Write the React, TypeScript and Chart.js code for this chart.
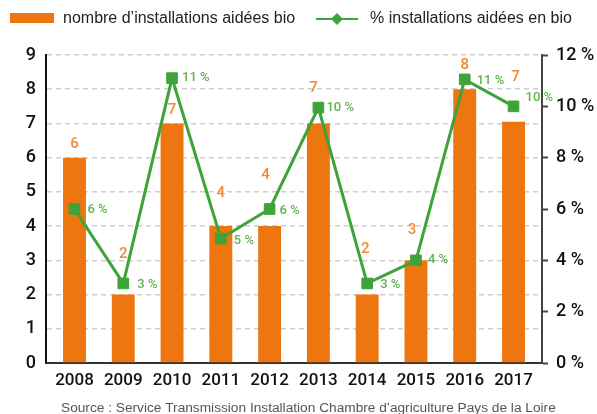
import React, { useEffect, useRef } from 'react';
import { Chart, registerables } from 'chart.js';

Chart.register(...registerables);

// ---- data ----
const years = ['2008', '2009', '2010', '2011', '2012', '2013', '2014', '2015', '2016', '2017'];
const installCounts = [6, 2, 7, 4, 4, 7, 2, 3, 8, 7.05];
const installPercents = [6.0, 3.1, 11.1, 4.85, 6.0, 9.95, 3.1, 4.0, 11.05, 10.0];
const countAxisMax = 9;
const percentAxisMax = 12;
const percentAxisStep = 2;
const legendLabels = ['nombre d’installations aidées bio', '% installations aidées en bio'];
const sourceText = 'Source : Service Transmission Installation Chambre d’agriculture Pays de la Loire';

// ---- styles ----
const ORANGE = '#ee7611';
const ORANGE_LABEL = '#f28a33';
const GREEN = '#3ea338';
const GREEN_LABEL = '#5fb44c';
const SANS = "'Liberation Sans', Arial, sans-serif";
const MED = "Roboto, 'Liberation Sans', sans-serif";

// label nudges (px) to reproduce the hand-placed labels of the original
const barLabelDx = [0, 0, 0, 0, -4, -5, -2, -4, 0, 2];
const barLabelDy = [-13, -40, -13, -33, -51, -35, -45, -30, -24, -44];
const pctLabelDx = [13, 14, 10, 13, 10, 8, 13, 12, 12, 12];
const pctLabelDy = [1, 1, 0, 2, 2, 0, 1, -1, 1, -9];

const decorPlugin = {
  id: 'decor',
  afterDatasetsDraw(chart: any) {
    const ctx = chart.ctx;
    ctx.save();
    const barMeta = chart.getDatasetMeta(0);
    ctx.font = `500 15px ${MED}`;
    ctx.fillStyle = ORANGE_LABEL;
    ctx.textAlign = 'center';
    ctx.textBaseline = 'middle';
    barMeta.data.forEach((el: any, i: number) => {
      ctx.fillText(String(Math.round(installCounts[i])), el.x + barLabelDx[i], el.y + barLabelDy[i]);
    });
    const lineMeta = chart.getDatasetMeta(1);
    ctx.font = `500 13px ${MED}`;
    ctx.fillStyle = GREEN_LABEL;
    ctx.textAlign = 'left';
    lineMeta.data.forEach((el: any, i: number) => {
      ctx.fillText(`${Math.round(installPercents[i])} %`, el.x + pctLabelDx[i], el.y + pctLabelDy[i]);
    });
    ctx.restore();
  },
  afterDraw(chart: any) {
    const ctx = chart.ctx;
    ctx.save();
    ctx.fillStyle = ORANGE;
    ctx.fillRect(10, 13, 44, 10);
    ctx.font = `16px ${SANS}`;
    ctx.fillStyle = '#222';
    ctx.textAlign = 'left';
    ctx.textBaseline = 'middle';
    ctx.fillText(legendLabels[0], 63, 19);
    ctx.strokeStyle = GREEN;
    ctx.lineWidth = 2;
    ctx.beginPath();
    ctx.moveTo(316, 19);
    ctx.lineTo(358, 19);
    ctx.stroke();
    ctx.fillStyle = GREEN;
    ctx.beginPath();
    ctx.moveTo(337, 13);
    ctx.lineTo(343, 19);
    ctx.lineTo(337, 25);
    ctx.lineTo(331, 19);
    ctx.closePath();
    ctx.fill();
    ctx.fillStyle = '#222';
    ctx.fillText(legendLabels[1], 370, 19);
    ctx.font = `13.7px ${SANS}`;
    ctx.fillStyle = '#555';
    ctx.textBaseline = 'alphabetic';
    ctx.fillText(sourceText, 61, 411.5);
    ctx.restore();
  },
};

export default function App() {
  const canvasRef = useRef<HTMLCanvasElement | null>(null);

  useEffect(() => {
    const canvas = canvasRef.current;
    if (!canvas) return;
    const chart = new Chart(canvas, {
      type: 'bar',
      data: {
        datasets: [
          {
            type: 'bar',
            label: legendLabels[0],
            data: installCounts.map((v, i) => ({ x: i, y: v })),
            backgroundColor: ORANGE,
            borderWidth: 0,
            barPercentage: 0.47,
            categoryPercentage: 1,
            yAxisID: 'y',
            order: 2,
          },
          {
            type: 'line',
            label: legendLabels[1],
            data: installPercents.map((v, i) => ({ x: i, y: v })),
            borderColor: GREEN,
            backgroundColor: GREEN,
            borderWidth: 3,
            pointStyle: 'rect',
            pointRadius: 7.5,
            pointBorderWidth: 1,
            pointBorderColor: GREEN,
            pointBackgroundColor: GREEN,
            tension: 0,
            yAxisID: 'y2',
            order: 1,
          } as any,
        ],
      },
      options: {
        responsive: false,
        animation: false,
        devicePixelRatio: 1,
        layout: { padding: { top: 55, left: 0, right: 0, bottom: 0 } },
        plugins: {
          legend: { display: false },
          tooltip: { enabled: false },
          title: { display: false },
        },
        scales: {
          x: {
            type: 'linear',
            min: -0.584,
            max: 9.584,
            offset: false,
            afterBuildTicks: (scale: any) => {
              scale.ticks = years.map((_, i) => ({ value: i }));
            },
            afterFit: (scale: any) => {
              scale.height = 51;
            },
            grid: { display: false, drawTicks: false },
            border: { display: true, color: '#333', width: 2 },
            ticks: {
              autoSkip: false,
              maxRotation: 0,
              minRotation: 0,
              padding: 8,
              color: '#111',
              font: { family: MED, size: 17, weight: '500' },
              callback: (v: any) => years[v] ?? '',
            },
          },
          y: {
            type: 'linear',
            position: 'left',
            min: 0,
            max: countAxisMax,
            afterFit: (scale: any) => {
              scale.width = 46;
            },
            grid: {
              drawTicks: false,
              lineWidth: 1.5,
              color: (c: any) => (c.tick && c.tick.value === 0 ? 'rgba(0,0,0,0)' : '#cfcfcf'),
            },
            border: { display: true, color: '#111', width: 2, dash: [5, 4] },
            ticks: {
              stepSize: 1,
              padding: 10,
              color: '#111',
              font: { family: MED, size: 18, weight: '500' },
            },
          },
          y2: {
            type: 'linear',
            position: 'right',
            min: 0,
            max: percentAxisMax,
            afterFit: (scale: any) => {
              scale.width = 55;
            },
            grid: {
              drawOnChartArea: false,
              drawTicks: true,
              tickLength: 6,
              tickWidth: 2,
              tickColor: '#444',
            },
            border: { display: true, color: '#444', width: 2 },
            ticks: {
              stepSize: percentAxisStep,
              padding: 8,
              color: '#111',
              font: { family: MED, size: 18, weight: '500' },
              callback: (v: any) => `${v} %`,
            },
          },
        },
      } as any,
      plugins: [decorPlugin],
    });
    return () => chart.destroy();
  }, []);

  return (
    <div style={{ position: 'absolute', left: 0, top: 0, width: 597, height: 414, background: '#fff' }}>
      <canvas ref={canvasRef} width={597} height={414} style={{ width: 597, height: 414, display: 'block' }} />
    </div>
  );
}
